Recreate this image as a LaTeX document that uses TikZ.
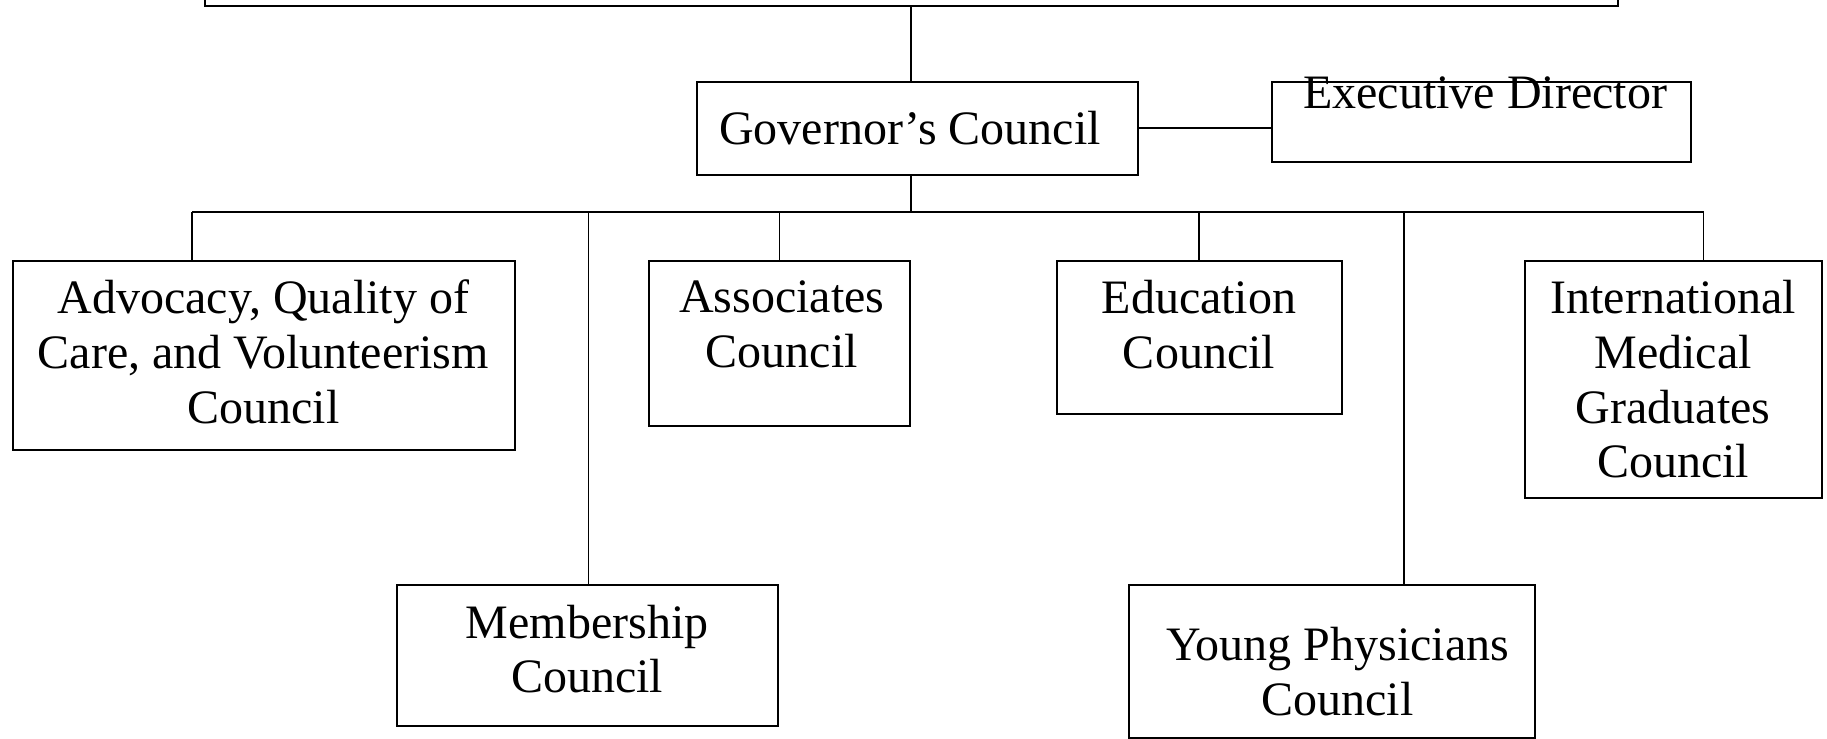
\documentclass[tikz,border=0pt]{standalone}
\usepackage{fontspec}
\setmainfont{Liberation Serif}
\begin{document}
\begin{tikzpicture}[x=0.5826pt,y=-0.5826pt,
  box/.style={draw,line width=1pt,rectangle,inner sep=0pt,outer sep=0pt},
  lbl/.style={inner sep=0pt,align=center,font=\fontsize{24}{27.4}\selectfont},
  conn/.style={line width=0.8pt}]
\useasboundingbox (0,0) rectangle (1568,633.4);
\clip (0,0) rectangle (1568,633.4);
% boxes
\node[box,minimum width=706.7pt,minimum height=40pt] (top) at (782.5,-29.3) {};
\node[box,minimum width=220.8pt,minimum height=46.6pt] (gov) at (787.5,110) {};
\node[box,minimum width=209.2pt,minimum height=40.2pt] (exec) at (1271.5,104.5) {};
\node[box,minimum width=251.1pt,minimum height=94.4pt] (adv) at (226.5,305) {};
\node[box,minimum width=130.5pt,minimum height=82.7pt] (assoc) at (669,295) {};
\node[box,minimum width=142.7pt,minimum height=76.3pt] (edu) at (1029.5,289.5) {};
\node[box,minimum width=148.6pt,minimum height=118.3pt] (intl) at (1436.5,325.5) {};
\node[box,minimum width=190.5pt,minimum height=70.5pt] (memb) at (504.5,562.5) {};
\node[box,minimum width=202.7pt,minimum height=76.3pt] (young) at (1143,567.5) {};
% texts
\node[lbl] (govt) at (781,110) {Governor’s Council};
\node[lbl] (exect) at (1274.5,80) {Executive Director};
\node[lbl] (advt) at (226,302) {Advocacy, Quality of\\Care, and Volunteerism\\Council};
\node[lbl] (assoct) at (671,278.5) {Associates\\Council};
\node[lbl] (edut) at (1029,278.5) {Education\\Council};
\node[lbl] (intlt) at (1436,325.5) {International\\Medical\\Graduates\\Council};
\node[lbl] (membt) at (504,557) {Membership\\Council};
\node[lbl] (youngt) at (1148,576.5) {Young Physicians\\Council};
% connectors
\coordinate (bus) at (782,182);
\draw[conn] (top.south -| 782,0) -- (gov.north -| 782,0);
\draw[conn] (gov.east) -- (gov.east -| exec.west);
\draw[conn] (gov.south -| 782,0) -- (bus);
\draw[conn] (165,182) -- (1462,182);
\draw[conn] (165,182) -- (adv.north -| 165,0);
\draw[conn] (505,182) -- (memb.north -| 505,0);
\draw[conn] (669,182) -- (assoc.north);
\draw[conn] (1029,182) -- (edu.north -| 1029,0);
\draw[conn] (1205,182) -- (young.north -| 1205,0);
\draw[conn] (1462,182) -- (intl.north -| 1462,0);
\end{tikzpicture}
\end{document}
